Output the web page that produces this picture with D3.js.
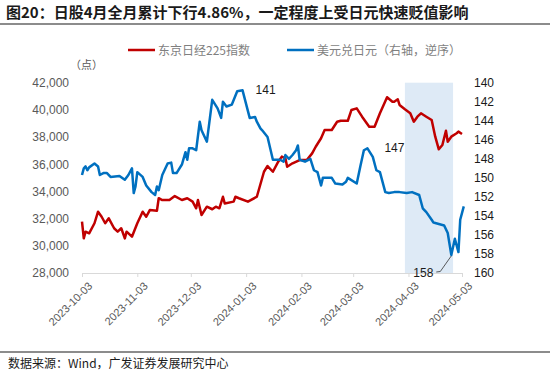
<!DOCTYPE html>
<html>
<head>
<meta charset="utf-8">
<script src="https://cdn.jsdelivr.net/npm/d3@7/dist/d3.min.js"></script>
<style>
  body { margin: 0; background: #fff; }
  svg { display: block; }
  text { font-family: "Liberation Sans", Arial, "Noto Sans CJK SC", sans-serif; }
  .cjk { font-family: "Noto Sans CJK SC", sans-serif; }
</style>
</head>
<body>
<div id="chart"></div>
<script>
// 东京日经225指数 (左轴)
var nikkeiDates = ["2023-10-03","2023-10-04","2023-10-05","2023-10-07","2023-10-10","2023-10-12","2023-10-14","2023-10-16","2023-10-18","2023-10-21",
  "2023-10-23","2023-10-25","2023-10-27","2023-10-28","2023-10-31","2023-11-03","2023-11-06","2023-11-08","2023-11-10","2023-11-14",
  "2023-11-15","2023-11-17","2023-11-21","2023-11-24","2023-11-28","2023-12-01","2023-12-04","2023-12-06","2023-12-07","2023-12-09",
  "2023-12-12","2023-12-15","2023-12-17","2023-12-19","2023-12-21","2023-12-22","2023-12-27","2023-12-28","2023-12-30","2024-01-04",
  "2024-01-09","2024-01-13","2024-01-15","2024-01-18","2024-01-21","2024-01-23","2024-01-25","2024-01-26","2024-01-29","2024-02-02",
  "2024-02-06","2024-02-09","2024-02-11","2024-02-14","2024-02-16","2024-02-20","2024-02-23","2024-02-25","2024-02-29","2024-03-02",
  "2024-03-05","2024-03-08","2024-03-12","2024-03-15","2024-03-18","2024-03-22","2024-03-25","2024-03-26","2024-03-28","2024-03-29",
  "2024-04-01","2024-04-04","2024-04-06","2024-04-08","2024-04-10","2024-04-13","2024-04-16","2024-04-18","2024-04-20","2024-04-22",
  "2024-04-24","2024-04-25","2024-04-27","2024-04-30","2024-05-01","2024-05-03"];
var nikkeiValues = [31774,30550,31040,30920,31660,32510,32140,31660,32020,31290,
  31040,31290,30550,31040,30670,31660,32510,32140,32630,32580,
  33500,33370,33370,33660,33370,33500,33250,32760,33370,32270,
  32880,32690,32880,32760,33610,33120,33250,33610,33500,33250,
  33610,35450,35870,35450,36190,36560,36440,35820,36070,36310,
  36310,36800,37290,37910,38520,38520,39130,39200,39200,39990,
  40110,39500,38760,38760,39750,40930,40600,40600,40780,40360,
  40040,39750,39130,39500,39750,39500,39260,38030,37100,37420,
  38470,37660,38030,38280,38400,38230];

// 美元兑日元 (右轴, 逆序)
var usdjpyDates = ["2023-10-03","2023-10-04","2023-10-05","2023-10-06","2023-10-07","2023-10-10","2023-10-12","2023-10-13","2023-10-15","2023-10-17",
  "2023-10-19","2023-10-24","2023-10-27","2023-10-29","2023-10-31","2023-11-01","2023-11-02","2023-11-03","2023-11-06","2023-11-08",
  "2023-11-11","2023-11-13","2023-11-14","2023-11-15","2023-11-17","2023-11-20","2023-11-22","2023-11-23","2023-11-25","2023-11-28",
  "2023-11-30","2023-12-01","2023-12-02","2023-12-04","2023-12-06","2023-12-08","2023-12-09","2023-12-12","2023-12-15","2023-12-18",
  "2023-12-20","2023-12-21","2023-12-23","2023-12-26","2023-12-29","2024-01-01","2024-01-05","2024-01-08","2024-01-09","2024-01-11",
  "2024-01-12","2024-01-15","2024-01-18","2024-01-22","2024-01-24","2024-01-25","2024-01-27","2024-01-29","2024-01-31","2024-02-01",
  "2024-02-02","2024-02-05","2024-02-08","2024-02-10","2024-02-12","2024-02-14","2024-02-15","2024-02-20","2024-02-22","2024-02-26",
  "2024-02-28","2024-02-29","2024-03-05","2024-03-07","2024-03-09","2024-03-11","2024-03-14","2024-03-16","2024-03-18","2024-03-21",
  "2024-03-23","2024-03-26","2024-03-29","2024-04-02","2024-04-05","2024-04-09","2024-04-11","2024-04-13","2024-04-16","2024-04-17",
  "2024-04-23","2024-04-25","2024-04-27","2024-04-29","2024-05-01","2024-05-02","2024-05-04"];
var usdjpyValues = [149.7,149.0,148.8,149.2,148.9,148.5,148.8,149.7,149.5,149.5,
  149.9,149.8,150.2,149.7,149.0,151.6,150.9,149.4,149.9,150.8,
  151.5,151.8,150.9,151.3,149.7,148.5,148.4,149.5,149.5,148.6,
  147.3,148.1,146.9,146.9,147.1,144.1,145.0,146.2,141.8,142.7,
  143.7,142.0,142.5,142.3,140.9,140.8,143.7,143.6,144.1,144.8,
  145.0,145.7,148.1,148.1,148.3,147.6,148.0,147.6,147.1,146.6,
  148.1,148.3,148.0,149.2,149.4,150.8,150.0,150.0,150.6,150.7,
  150.4,150.0,150.6,148.8,147.1,146.9,147.8,149.2,149.4,151.5,
  151.6,151.5,151.5,151.6,151.5,151.8,153.2,153.6,154.4,154.7,
  155.0,155.8,158.1,156.4,157.8,154.4,153.0];

var leftTicks = [28000, 30000, 32000, 34000, 36000, 38000, 40000, 42000];
var rightTicks = [140, 142, 144, 146, 148, 150, 152, 154, 156, 158, 160];
var xTickLabels = ["2023-10-03","2023-11-03","2023-12-03","2024-01-03","2024-02-03","2024-03-03","2024-04-03","2024-05-03"];
var shadeRange = ["2024-04-01", "2024-04-28"];

var parse = d3.timeParse("%Y-%m-%d");
var width = 550, height = 370;
var plotLeft = 82, plotRight = 462, plotTop = 82.7, plotBottom = 273;

var svg = d3.select("#chart").append("svg")
    .attr("width", width)
    .attr("height", height);

var x = d3.scaleTime()
    .domain([parse(xTickLabels[0]), parse(xTickLabels[xTickLabels.length - 1])])
    .range([plotLeft, plotRight]);
var yL = d3.scaleLinear().domain([28000, 42000]).range([plotBottom, plotTop]);
var yR = d3.scaleLinear().domain([140, 160]).range([plotTop, plotBottom]);

// 标题
svg.append("text")
    .attr("class", "cjk")
    .attr("x", 6).attr("y", 18)
    .attr("font-size", 15).attr("font-weight", "bold").attr("fill", "#1a1a1a")
    .text("图20：日股4月全月累计下行4.86%，一定程度上受日元快速贬值影响");
svg.append("line")
    .attr("x1", 0).attr("x2", width).attr("y1", 24).attr("y2", 24)
    .attr("stroke", "#666").attr("stroke-width", 1.5);

// 图例
var legend = [
    { name: "东京日经225指数", color: "#c00000", x: 128 },
    { name: "美元兑日元（右轴，逆序）", color: "#0070c0", x: 287 }
];
legend.forEach(function(l) {
    svg.append("line")
        .attr("x1", l.x).attr("x2", l.x + 27).attr("y1", 50).attr("y2", 50)
        .attr("stroke", l.color).attr("stroke-width", 2.5);
    svg.append("text")
        .attr("class", "cjk")
        .attr("x", l.x + 30).attr("y", 54.5)
        .attr("font-size", 12).attr("fill", "#7f7f7f")
        .text(l.name);
});

svg.append("text")
    .attr("class", "cjk")
    .attr("x", 70).attr("y", 69)
    .attr("font-size", 11).attr("fill", "#595959")
    .text("（点）");

// 阴影区域 (4月)
svg.append("rect")
    .attr("x", x(parse(shadeRange[0])))
    .attr("y", plotTop)
    .attr("width", x(parse(shadeRange[1])) - x(parse(shadeRange[0])))
    .attr("height", plotBottom - plotTop)
    .attr("fill", "#deeaf6");

// 左轴
var axisL = svg.append("g")
    .attr("transform", "translate(" + plotLeft + ",0)")
    .call(d3.axisLeft(yL).tickValues(leftTicks).tickFormat(d3.format(",")).tickSize(0).tickPadding(13));
axisL.select(".domain").remove();
axisL.selectAll("text").attr("font-size", 12).attr("fill", "#595959")
    .attr("font-family", "Liberation Sans, Arial, sans-serif");

// 右轴
var axisR = svg.append("g")
    .attr("transform", "translate(" + plotRight + ",0)")
    .call(d3.axisRight(yR).tickValues(rightTicks).tickSize(0).tickPadding(12));
axisR.select(".domain").remove();
axisR.selectAll("text").attr("font-size", 12).attr("fill", "#1a1a1a")
    .attr("font-family", "Liberation Sans, Arial, sans-serif");

// X 轴
var axisX = svg.append("g")
    .attr("transform", "translate(0," + plotBottom + ")")
    .call(d3.axisBottom(x).tickValues(xTickLabels.map(parse)).tickFormat(d3.timeFormat("%Y-%m-%d")).tickSize(4).tickSizeOuter(0));
axisX.select(".domain").attr("stroke", "#d9d9d9").attr("stroke-width", 1.2);
axisX.selectAll(".tick line").attr("stroke", "#d9d9d9");
axisX.selectAll("text")
    .attr("font-size", 11).attr("fill", "#595959")
    .attr("font-family", "Liberation Sans, Arial, sans-serif")
    .attr("text-anchor", "end")
    .attr("dy", "0.35em")
    .attr("transform", "translate(3,6) rotate(-45)");

// 折线
var nikkei = nikkeiDates.map(function(d, i) { return { date: parse(d), value: nikkeiValues[i] }; });
var usdjpy = usdjpyDates.map(function(d, i) { return { date: parse(d), value: usdjpyValues[i] }; });

svg.append("path")
    .datum(nikkei)
    .attr("fill", "none")
    .attr("stroke", "#c00000")
    .attr("stroke-width", 2.5)
    .attr("stroke-linejoin", "round")
    .attr("d", d3.line().x(d => x(d.date)).y(d => yL(d.value)));

svg.append("path")
    .datum(usdjpy)
    .attr("fill", "none")
    .attr("stroke", "#0070c0")
    .attr("stroke-width", 2.5)
    .attr("stroke-linejoin", "round")
    .attr("d", d3.line().x(d => x(d.date)).y(d => yR(d.value)));

// 标注
var minPt = usdjpy.reduce((a, b) => b.value < a.value ? b : a);
var maxPt = usdjpy.reduce((a, b) => b.value > a.value ? b : a);
var midPt = usdjpy.filter(d => d.date >= parse("2024-03-01") && d.date <= parse("2024-03-20"))
    .reduce((a, b) => b.value < a.value ? b : a);

svg.append("text")
    .attr("x", x(minPt.date) + 13).attr("y", yR(minPt.value) + 4)
    .attr("font-size", 12).attr("fill", "#1a1a1a")
    .text(Math.round(minPt.value));
svg.append("text")
    .attr("x", x(midPt.date) + 17).attr("y", yR(midPt.value) + 4)
    .attr("font-size", 12).attr("fill", "#1a1a1a")
    .text(Math.round(midPt.value));
svg.append("text")
    .attr("x", x(maxPt.date) - 38).attr("y", yR(160) + 4)
    .attr("font-size", 12).attr("fill", "#1a1a1a")
    .text(Math.round(maxPt.value));
svg.append("polyline")
    .attr("points", [[x(maxPt.date) - 15, yR(160) - 1], [x(maxPt.date) - 11, yR(160) - 1.5], [x(maxPt.date), yR(maxPt.value) + 1]]
        .map(p => p.join(",")).join(" "))
    .attr("fill", "none").attr("stroke", "#333").attr("stroke-width", 0.8);

// 底部
svg.append("line")
    .attr("x1", 0).attr("x2", width).attr("y1", 352).attr("y2", 352)
    .attr("stroke", "#666").attr("stroke-width", 1.5);
svg.append("text")
    .attr("class", "cjk")
    .attr("x", 8).attr("y", 368)
    .attr("font-size", 12).attr("fill", "#1a1a1a")
    .text("数据来源：Wind，广发证券发展研究中心");
</script>
</body>
</html>
